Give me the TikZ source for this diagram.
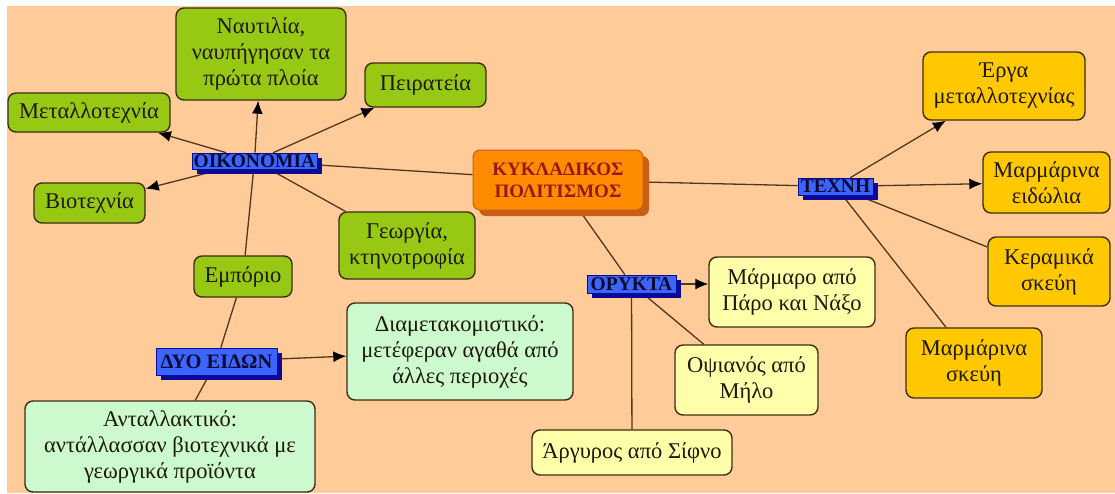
\documentclass[tikz,border=0pt]{standalone}
\usepackage{fontspec}
\setmainfont{Liberation Serif}
\usetikzlibrary{arrows.meta,shadows}
\pgfdeclarelayer{bg}
\pgfdeclarelayer{edges}
\pgfsetlayers{bg,edges,main}
\definecolor{peach}{RGB}{255,204,153}
\definecolor{leaf}{RGB}{150,200,20}
\definecolor{mint}{RGB}{204,250,206}
\definecolor{cream}{RGB}{255,255,170}
\definecolor{gold}{RGB}{255,200,0}
\definecolor{boxline}{RGB}{60,45,20}
\definecolor{wire}{RGB}{80,55,30}
\definecolor{tagfill}{RGB}{60,100,255}
\definecolor{tagshadow}{RGB}{10,10,150}
\definecolor{tagtext}{RGB}{10,10,50}
\definecolor{hubfill}{RGB}{255,140,0}
\definecolor{hubshadow}{RGB}{200,95,20}
\definecolor{hubtext}{RGB}{150,25,25}
\definecolor{ink}{RGB}{30,25,10}
\tikzset{
  card/.style={draw=boxline, line width=1.4pt, rounded corners=8pt,
    align=center, inner sep=2pt, text=ink,
    font=\fontsize{22.5}{26}\selectfont},
  leafcard/.style={card, fill=leaf},
  mintcard/.style={card, fill=mint},
  creamcard/.style={card, fill=cream},
  goldcard/.style={card, fill=gold},
  tag/.style={draw=tagshadow, line width=0.6pt, fill=tagfill, text=tagtext,
    inner sep=0pt, font=\fontsize{19.5}{20}\selectfont\bfseries,
    drop shadow={shadow xshift=5pt, shadow yshift=-5pt, fill=tagshadow, opacity=1}},
  hub/.style={draw=hubshadow, line width=1pt, fill=hubfill, text=hubtext,
    rounded corners=7pt, align=center,
    font=\fontsize{19}{22}\selectfont\bfseries,
    drop shadow={shadow xshift=6pt, shadow yshift=-6pt, fill=hubshadow, opacity=1}},
  link/.style={draw=wire, line width=1.3pt},
  arrowlink/.style={link, -{Latex[length=13pt,width=11pt,color=black,fill=black]}},
}
\begin{document}
\begin{tikzpicture}[x=1pt,y=-1pt]
\useasboundingbox (0,0) rectangle (1115,493);
\begin{pgfonlayer}{bg}
  \fill[white] (0,0) rectangle (1115,493);
  \fill[peach] (7,6) rectangle (1115,493);
\end{pgfonlayer}

% economy branch
\node[leafcard, minimum width=170pt, minimum height=92pt] (naut) at (261,54)
  {Ναυτιλία,\\ναυπήγησαν τα\\πρώτα πλοία};
\node[leafcard, minimum width=121pt, minimum height=44pt] (peir) at (425.5,85) {Πειρατεία};
\node[leafcard, minimum width=162pt, minimum height=39pt] (metal) at (89,112.5) {Μεταλλοτεχνία};
\node[leafcard, minimum width=111pt, minimum height=40pt] (biot) at (89.5,203) {Βιοτεχνία};
\node[leafcard, minimum width=136pt, minimum height=67pt] (georg) at (407,245.5) {Γεωργία,\\κτηνοτροφία};
\node[leafcard, minimum width=98pt, minimum height=41pt] (empor) at (243,276.5) {Εμπόριο};
\node[tag, minimum width=125pt, minimum height=16pt] (oik) at (254.5,161) {ΟΙΚΟΝΟΜΙΑ};

% trade
\node[tag, minimum width=121pt, minimum height=27pt, font=\fontsize{20.5}{21}\selectfont\bfseries] (dyo) at (216.5,361.5) {ΔΥΟ ΕΙΔΩΝ};
\node[mintcard, minimum width=226pt, minimum height=97pt] (diamet) at (460,351.5)
  {Διαμετακομιστικό:\\μετέφεραν αγαθά από\\άλλες περιοχές};
\node[mintcard, minimum width=290pt, minimum height=91pt] (antall) at (170,446.5)
  {Ανταλλακτικό:\\αντάλλασσαν βιοτεχνικά με\\γεωργικά προϊόντα};

% centre
\node[hub, minimum width=170pt, minimum height=60pt] (hub) at (558,180)
  {ΚΥΚΛΑΔΙΚΟΣ\\ΠΟΛΙΤΙΣΜΟΣ};

% art branch
\node[tag, minimum width=75pt, minimum height=17pt] (techne) at (835.5,186.5) {ΤΕΧΝΗ};
\node[goldcard, minimum width=162pt, minimum height=68pt] (erga) at (1004,86) {Έργα\\μεταλλοτεχνίας};
\node[goldcard, minimum width=127pt, minimum height=61pt] (eidol) at (1046.5,182.5) {Μαρμάρινα\\ειδώλια};
\node[goldcard, minimum width=122pt, minimum height=69pt] (keram) at (1049,271.5) {Κεραμικά\\σκεύη};
\node[goldcard, minimum width=136pt, minimum height=70pt] (skeyi) at (974,363) {Μαρμάρινα\\σκεύη};

% minerals branch
\node[tag, minimum width=89pt, minimum height=18pt] (orykta) at (631.5,284) {ΟΡΥΚΤΑ};
\node[creamcard, minimum width=166pt, minimum height=70pt] (marm) at (792,292) {Μάρμαρο από\\Πάρο και Νάξο};
\node[creamcard, minimum width=143pt, minimum height=70pt] (opsi) at (746.5,380) {Οψιανός από\\Μήλο};
\node[creamcard, minimum width=200pt, minimum height=45pt] (argy) at (632,452.5) {Άργυρος από Σίφνο};

\begin{pgfonlayer}{edges}
  \draw[arrowlink] (oik) -- (metal);
  \draw[arrowlink] (oik) -- (biot);
  \draw[arrowlink] (oik) -- (naut);
  \draw[arrowlink] (oik) -- (peir);
  \draw[link] (oik) -- (georg);
  \draw[link] (oik) -- (hub);
  \draw[link] (oik) -- (empor);
  \draw[link] (empor) -- (dyo);
  \draw[arrowlink] (dyo) -- (diamet);
  \draw[link] (dyo) -- (antall);
  \draw[link] (hub) -- (techne);
  \draw[link] (hub) -- (orykta);
  \draw[arrowlink] (orykta.east) -- (orykta.east -| marm.west);
  \draw[link] (orykta) -- (opsi);
  \draw[link] (orykta) -- (argy);
  \draw[arrowlink] (techne) -- (erga);
  \draw[arrowlink] (techne) -- (eidol);
  \draw[link] (techne) -- (keram);
  \draw[link] (techne) -- (skeyi);
\end{pgfonlayer}
\end{tikzpicture}
\end{document}
